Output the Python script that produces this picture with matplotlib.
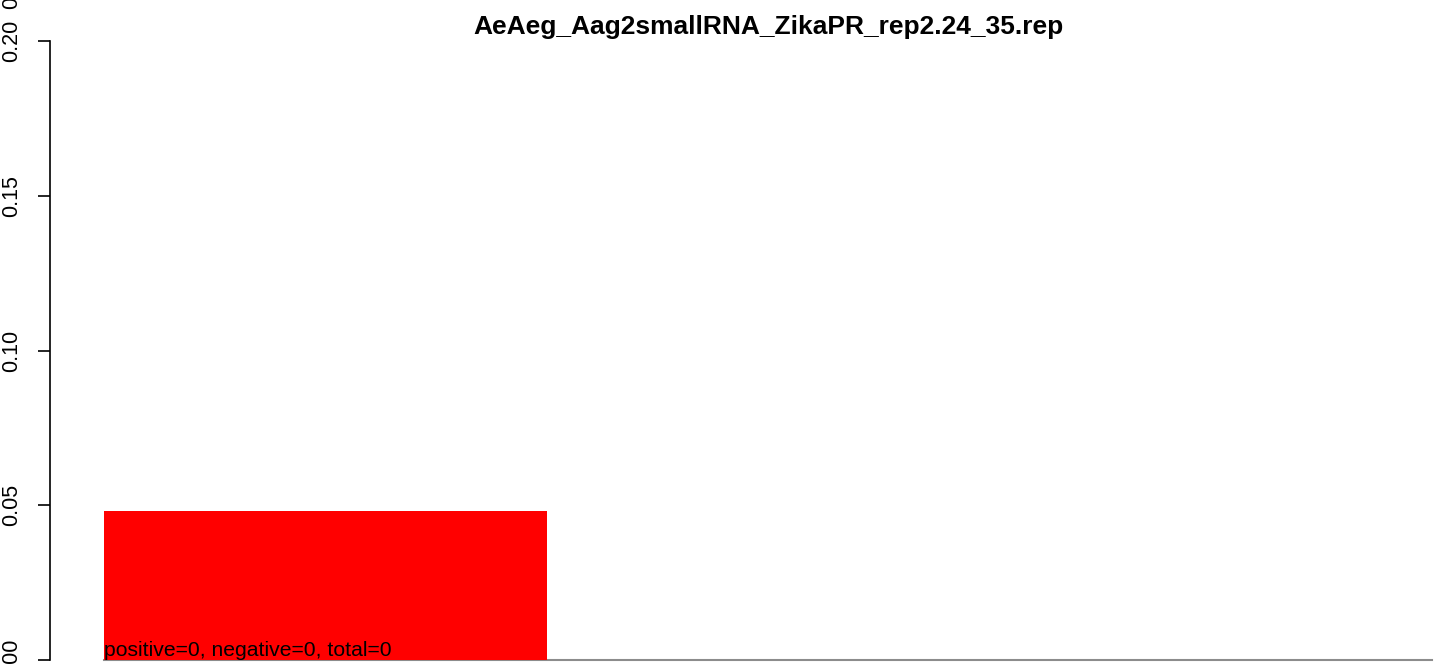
import matplotlib
matplotlib.use("Agg")
import matplotlib.pyplot as plt

plt.rcParams['font.family'] = ['Liberation Sans', 'DejaVu Sans']

# data
title = "AeAeg_Aag2smallRNA_ZikaPR_rep2.24_35.rep"
bar_pos = [0]
bar_vals = [0.048]
yticks = [0.00, 0.05, 0.10, 0.15, 0.20]
ytick_labels = ["0.00", "0.05", "0.10", "0.15", "0.20"]
note = "positive=0, negative=0, total=0"

W, H = 1444, 666
fig = plt.figure(figsize=(W / 100, H / 100), dpi=100)
ax = fig.add_axes([49.5 / W, 6 / H, (1432 - 49.5) / W, (660 - 41) / H])

ax.bar(bar_pos, bar_vals, width=1.0, align='edge', color='#ff0000', zorder=2)
ax.plot([0, 3.0], [0, 0], color='#8c8c8c', lw=1.5, zorder=1, clip_on=False)

ax.set_xlim(-0.123, 3.0)
ax.set_ylim(0, 0.2)

for s in ['top', 'right', 'bottom']:
    ax.spines[s].set_visible(False)
ax.spines['left'].set_linewidth(1.2)
ax.set_xticks([])
ax.set_yticks(yticks)
ax.set_yticklabels(ytick_labels, rotation=90, va='center', fontsize=15.5)
ax.tick_params(axis='y', length=9, width=1.2, pad=11)

ax.text(0, 0.0, note, fontsize=15.2, ha='left', va='bottom', zorder=3)

fig.text(768 / W, 1 - 34 / H, title, fontsize=19, fontweight='bold',
         ha='center', va='baseline')
# overlapping label fragment at the top edge
fig.text(12 / W, 1 - 9 / H, "0", rotation=90, fontsize=15.5,
         ha='center', va='bottom')

fig.savefig("out.png", dpi=100)
